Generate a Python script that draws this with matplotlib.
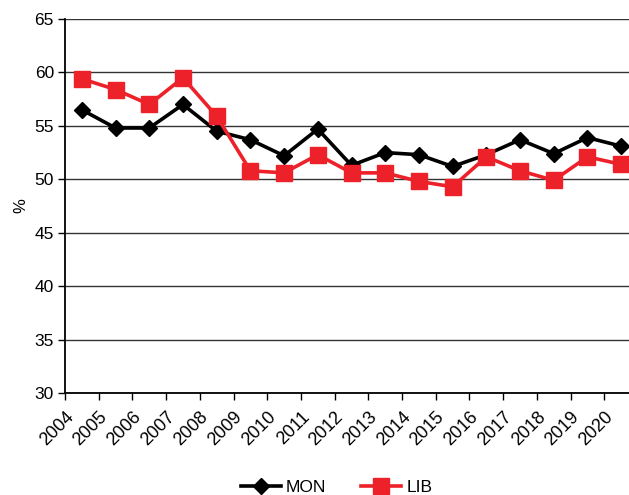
import matplotlib
matplotlib.use("Agg")
import matplotlib.pyplot as plt
import numpy as np

plt.rcParams['font.family'] = ['Liberation Sans', 'DejaVu Sans']

# yearly shares (%)
years = [str(y) for y in range(2004, 2021)]
mon = [56.5, 54.8, 54.8, 57.0, 54.5, 53.7, 52.2, 54.7, 51.3, 52.5,
       52.3, 51.2, 52.3, 53.7, 52.4, 53.9, 53.1]
lib = [59.4, 58.4, 57.0, 59.5, 55.9, 50.8, 50.6, 52.3, 50.6, 50.6,
       49.8, 49.3, 52.1, 50.8, 49.9, 52.1, 51.4]

red = '#ED2129'

fig = plt.figure(figsize=(6.29, 4.95), dpi=100)
# axes runs slightly past the right edge of the figure
ax = fig.add_axes([65 / 629, 102 / 495, 573 / 629, 374 / 495])

x = np.arange(len(years)) + 0.5
ax.plot(x, mon, color='black', lw=2.6, marker='D', ms=8.5, mec='black',
        label='MON', zorder=3, clip_on=False)
ax.plot(x, lib, color=red, lw=2.6, marker='s', ms=11.5, mec=red,
        label='LIB', zorder=4, clip_on=False)

ax.set_xlim(0, len(years))
ax.set_ylim(30, 65)
ax.set_yticks(np.arange(30, 66, 5))
ax.set_xticks(np.arange(len(years)))
# anchor on the top-right corner so the rotated years sit right/below each tick
ax.set_xticklabels(years, rotation=45, ha='right', va='top',
                   rotation_mode='anchor', fontsize=13)
ax.tick_params(axis='x', pad=6, length=5, width=1)
ax.tick_params(axis='y', labelsize=12.5, length=5, width=1, pad=3)

ax.yaxis.grid(True, color='#333333', lw=1)
ax.set_axisbelow(True)
for s in ['top', 'right']:
    ax.spines[s].set_visible(False)
for s in ['left', 'bottom']:
    ax.spines[s].set_linewidth(1.3)

ax.set_ylabel('%', fontsize=12, labelpad=4)

fig.legend(loc='center', bbox_to_anchor=(0.535, 0.016), ncol=2, frameon=False,
           fontsize=12.5, handlelength=2.3, columnspacing=2.0, handletextpad=0.3,
           borderaxespad=0)

fig.savefig('out.png', dpi=100)
